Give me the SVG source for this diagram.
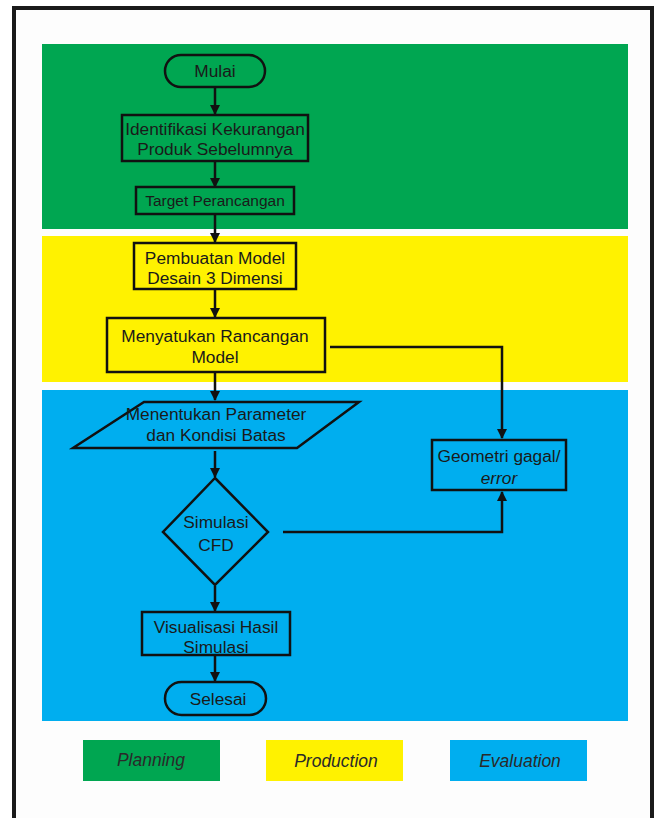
<svg xmlns="http://www.w3.org/2000/svg" width="662" height="818" viewBox="0 0 662 818">
<style>
.node{fill:none;stroke:#111;stroke-width:2.5}
.lbl{font-family:"Liberation Sans",Arial,sans-serif;font-size:17.3px;fill:#1a1a1a;text-anchor:middle}
.leg{font-family:"Liberation Sans",Arial,sans-serif;font-size:17.5px;font-style:italic;fill:#2a2a2a;text-anchor:middle}
.conn{fill:none;stroke:#111;stroke-width:2.5}
</style>
<defs>
<marker id="ah" viewBox="0 0 10 10" refX="9" refY="5" markerWidth="4" markerHeight="4" orient="auto" markerUnits="strokeWidth">
<path d="M0,0 L10,5 L0,10 z" fill="#111"/>
</marker>
</defs>
<rect x="0" y="0" width="662" height="818" fill="#fff"/>
<rect x="14" y="8" width="638" height="830" fill="#fdfdfd" stroke="#1a1a1a" stroke-width="4"/>
<g id="bands">
<rect x="42" y="44" width="586" height="185" fill="#00A651"/>
<rect x="42" y="236" width="586" height="146" fill="#FFF200"/>
<rect x="42" y="390" width="586" height="331" fill="#00AEEF"/>
</g>
<g id="connectors">
<line class="conn" x1="215" y1="88" x2="215" y2="114" marker-end="url(#ah)"/>
<line class="conn" x1="215" y1="162" x2="215" y2="187" marker-end="url(#ah)"/>
<line class="conn" x1="215" y1="215" x2="215" y2="242" marker-end="url(#ah)"/>
<line class="conn" x1="215" y1="290" x2="215" y2="317" marker-end="url(#ah)"/>
<line class="conn" x1="215" y1="373" x2="215" y2="400" marker-end="url(#ah)"/>
<line class="conn" x1="215" y1="451" x2="215" y2="477" marker-end="url(#ah)"/>
<line class="conn" x1="215" y1="586" x2="215" y2="611" marker-end="url(#ah)"/>
<line class="conn" x1="215" y1="656" x2="215" y2="681" marker-end="url(#ah)"/>
<polyline class="conn" points="330,347 502,347 502,438" marker-end="url(#ah)"/>
<polyline class="conn" points="283,532 502,532 502,492" marker-end="url(#ah)"/>
</g>
<g id="mulai">
<rect class="node" x="165" y="55" width="100" height="32" rx="16" ry="16"/>
<text class="lbl" x="215" y="77">Mulai</text>
</g>
<g id="identifikasi">
<rect class="node" x="122" y="115" width="186" height="46"/>
<text class="lbl" x="215" y="135">Identifikasi Kekurangan</text>
<text class="lbl" x="215" y="155">Produk Sebelumnya</text>
</g>
<g id="target">
<rect class="node" x="136" y="187" width="158" height="27"/>
<text class="lbl" x="215" y="206" style="font-size:15.5px">Target Perancangan</text>
</g>
<g id="pembuatan">
<rect class="node" x="134" y="243" width="162" height="46"/>
<text class="lbl" x="215" y="264">Pembuatan Model</text>
<text class="lbl" x="215" y="284">Desain 3 Dimensi</text>
</g>
<g id="menyatukan">
<rect class="node" x="107" y="318" width="218" height="54"/>
<text class="lbl" x="215" y="342">Menyatukan Rancangan</text>
<text class="lbl" x="215" y="363">Model</text>
</g>
<g id="parameter">
<polygon class="node" points="144,402 359,402 297,448 73,448"/>
<text class="lbl" x="216" y="420">Menentukan Parameter</text>
<text class="lbl" x="216" y="441">dan Kondisi Batas</text>
</g>
<g id="simulasi">
<polygon class="node" points="215,478 268,532 215,585 163,532"/>
<text class="lbl" x="216" y="528">Simulasi</text>
<text class="lbl" x="216" y="551">CFD</text>
</g>
<g id="geometri">
<rect class="node" x="432" y="440" width="134" height="50"/>
<text class="lbl" x="499" y="462">Geometri gagal/</text>
<text class="lbl" x="499" y="484" font-style="italic">error</text>
</g>
<g id="visualisasi">
<rect class="node" x="142" y="612" width="148" height="43"/>
<text class="lbl" x="216" y="633">Visualisasi Hasil</text>
<text class="lbl" x="216" y="653">Simulasi</text>
</g>
<g id="selesai">
<rect class="node" x="165" y="682" width="101" height="33" rx="16.5" ry="16.5"/>
<text class="lbl" x="218" y="705">Selesai</text>
</g>
<g id="legend">
<rect x="83" y="740" width="137" height="41" fill="#00A651"/>
<text class="leg" x="151" y="766">Planning</text>
<rect x="266" y="740" width="137" height="41" fill="#FFF200"/>
<text class="leg" x="336" y="767">Production</text>
<rect x="450" y="740" width="137" height="41" fill="#00AEEF"/>
<text class="leg" x="520" y="767">Evaluation</text>
</g>
</svg>
